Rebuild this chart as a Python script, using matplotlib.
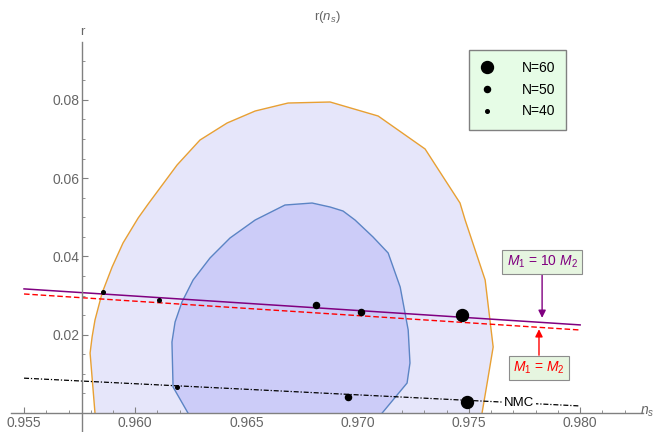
import numpy as np
import matplotlib
matplotlib.use('Agg')
import matplotlib.pyplot as plt
from matplotlib.lines import Line2D

plt.rcParams['font.family'] = ['Liberation Sans', 'DejaVu Sans']
plt.rcParams['mathtext.fontset'] = 'custom'
plt.rcParams['mathtext.rm'] = 'Liberation Sans'
plt.rcParams['mathtext.it'] = 'Liberation Sans:italic'

# 2-sigma contour (outer)
outer_ns = [0.95819, 0.95797, 0.95806, 0.95819, 0.95851, 0.95896, 0.95945, 0.96013,
            0.96058, 0.96188, 0.96291, 0.96413, 0.96539, 0.96687, 0.96876, 0.97092,
            0.97303, 0.97393, 0.97460, 0.97483, 0.97573, 0.97609, 0.97582, 0.97559]
outer_r = [0.0, 0.01532, 0.01941, 0.02375, 0.03065, 0.03729, 0.04342, 0.04980,
           0.05338, 0.06334, 0.06972, 0.07407, 0.07713, 0.07917, 0.07943, 0.07585,
           0.06743, 0.05951, 0.05363, 0.04929, 0.03397, 0.01686, 0.00766, 0.0]

# 1-sigma contour (inner)
inner_ns = [0.96237, 0.96170, 0.96165, 0.96179, 0.96210, 0.96260, 0.96336, 0.96426,
            0.96539, 0.96673, 0.96795, 0.96876, 0.96934, 0.96988, 0.97069, 0.97137,
            0.97191, 0.97227, 0.97235, 0.97222, 0.97110]
inner_r = [0.0, 0.00664, 0.01813, 0.02324, 0.02835, 0.03397, 0.03959, 0.04470,
           0.04929, 0.05312, 0.05363, 0.05261, 0.05159, 0.04929, 0.04495, 0.04086,
           0.03218, 0.02120, 0.01277, 0.00766, 0.0]

# model curves
line_ns = [0.955, 0.980]
purple_r = [0.0317, 0.0225]   # M1 = 10 M2
red_r = [0.0304, 0.0212]      # M1 = M2
nmc_r = [0.0089, 0.0018]      # NMC

# N = 40, 50, 60 points
purple_pts_ns = [0.95855, 0.96813, 0.97469]
purple_pts_r = [0.0309, 0.02758, 0.02503]
purple_pts_N = [40, 50, 60]
red_pts_ns = [0.96107, 0.97015]
red_pts_r = [0.02886, 0.0258]
red_pts_N = [40, 50]
nmc_pts_ns = [0.96188, 0.96957, 0.97492]
nmc_pts_r = [0.00664, 0.00409, 0.00281]
nmc_pts_N = [40, 50, 60]

msize = {40: 2.6, 50: 4.4, 60: 8.6}

fig = plt.figure(figsize=(6.58, 4.32), dpi=100)
ax = fig.add_axes([0, 0, 1, 1])
ax.set_xlim(0.95392, 0.98350)
ax.set_ylim(-0.00485, 0.10548)

ax.fill(outer_ns, outer_r, facecolor='#E6E6FA', edgecolor='none', zorder=1)
ax.plot(outer_ns, outer_r, color='#E8A033', lw=1.0, zorder=2)
ax.fill(inner_ns, inner_r, facecolor='#CCCCF8', edgecolor='none', zorder=2)
ax.plot(inner_ns, inner_r, color='#5B84C4', lw=1.0, zorder=3)

ax.plot(line_ns, purple_r, color='#800080', lw=1.1, zorder=4)
ax.plot(line_ns, red_r, color='#FF0000', lw=1.0, dashes=(4, 2), zorder=4)
ax.plot(line_ns, nmc_r, color='black', lw=0.9, dashes=(4, 1.5, 1, 1.5), zorder=4)

for xs, ys, ns in [(purple_pts_ns, purple_pts_r, purple_pts_N),
                   (red_pts_ns, red_pts_r, red_pts_N),
                   (nmc_pts_ns, nmc_pts_r, nmc_pts_N)]:
    for x, y, n in zip(xs, ys, ns):
        ax.plot(x, y, 'o', color='black', ms=msize[n], zorder=6)

# axes through the plot like Mathematica
for s in ['top', 'right']:
    ax.spines[s].set_visible(False)
ax.spines['left'].set_position(('data', 0.95761))
ax.spines['bottom'].set_position(('data', 0.0))
ax.spines['left'].set_bounds(-0.00485, 0.0948)
ax.spines['bottom'].set_bounds(0.95442, 0.98283)
for s in ['left', 'bottom']:
    ax.spines[s].set_color('#808080')
    ax.spines[s].set_linewidth(1.0)
    ax.spines[s].set_zorder(5)

ax.set_xticks([0.955, 0.960, 0.965, 0.970, 0.975, 0.980])
ax.set_xticklabels(['0.955', '0.960', '0.965', '0.970', '0.975', '0.980'])
ax.set_xticks(np.arange(0.955, 0.9825, 0.001), minor=True)
ax.set_yticks([0.02, 0.04, 0.06, 0.08])
ax.set_yticklabels(['0.02', '0.04', '0.06', '0.08'])
ax.set_yticks(np.arange(0.005, 0.0925, 0.005), minor=True)
ax.tick_params(which='both', direction='in', color='#808080', labelcolor='#666666',
               labelsize=10, pad=2)
ax.tick_params(which='major', length=4, width=0.8)
ax.tick_params(which='minor', length=2.5, width=0.6)

fig.text(327 / 658, 1 - 17 / 432, r'r($n_s$)', ha='center', va='center',
         color='#666666', fontsize=9.5)
fig.text(82 / 658, 1 - 32 / 432, 'r', ha='center', va='center',
         color='#666666', fontsize=9.5)
fig.text(640 / 658, 1 - 412 / 432, r'$n_s$', ha='left', va='center',
         color='#666666', fontsize=10)

# annotations
box = dict(boxstyle='square,pad=0.3', facecolor='#E6F5E0', edgecolor='#8C8C8C', lw=0.8)
ax.annotate(r'$M_1$ = 10 $M_2$', xy=(0.97829, 0.0243), xytext=(0.97829, 0.0386),
            ha='center', va='center', color='#800080', fontsize=10, bbox=box,
            arrowprops=dict(arrowstyle='-|>', color='#800080', lw=1.0,
                            mutation_scale=11, shrinkA=0, shrinkB=0), zorder=7)
ax.annotate(r'$M_1$ = $M_2$', xy=(0.97815, 0.0214), xytext=(0.97815, 0.0115),
            ha='center', va='center', color='#FF0000', fontsize=10, bbox=box,
            arrowprops=dict(arrowstyle='-|>', color='#FF0000', lw=1.0,
                            mutation_scale=11, shrinkA=0, shrinkB=0), zorder=7)
ax.text(0.97658, 0.00255, 'NMC', ha='left', va='center', fontsize=9.5, color='black',
        bbox=dict(boxstyle='square,pad=0.1', facecolor='white', edgecolor='none'),
        zorder=7)

handles = [Line2D([], [], ls='none', marker='o', color='black', ms=msize[n])
           for n in [60, 50, 40]]
leg = ax.legend(handles, ['N=60', 'N=50', 'N=40'], loc='upper left',
                bbox_to_anchor=(469 / 658, 1 - 50 / 432), bbox_transform=fig.transFigure,
                borderaxespad=0, frameon=True, fancybox=False, fontsize=10,
                handlelength=1.0, handletextpad=2.0, labelspacing=0.55,
                borderpad=0.8)
leg.get_frame().set_facecolor('#E6FCE6')
leg.get_frame().set_edgecolor('#808080')
leg.get_frame().set_linewidth(1.0)
leg.get_frame().set_alpha(1)

fig.savefig('out.png', dpi=100)
